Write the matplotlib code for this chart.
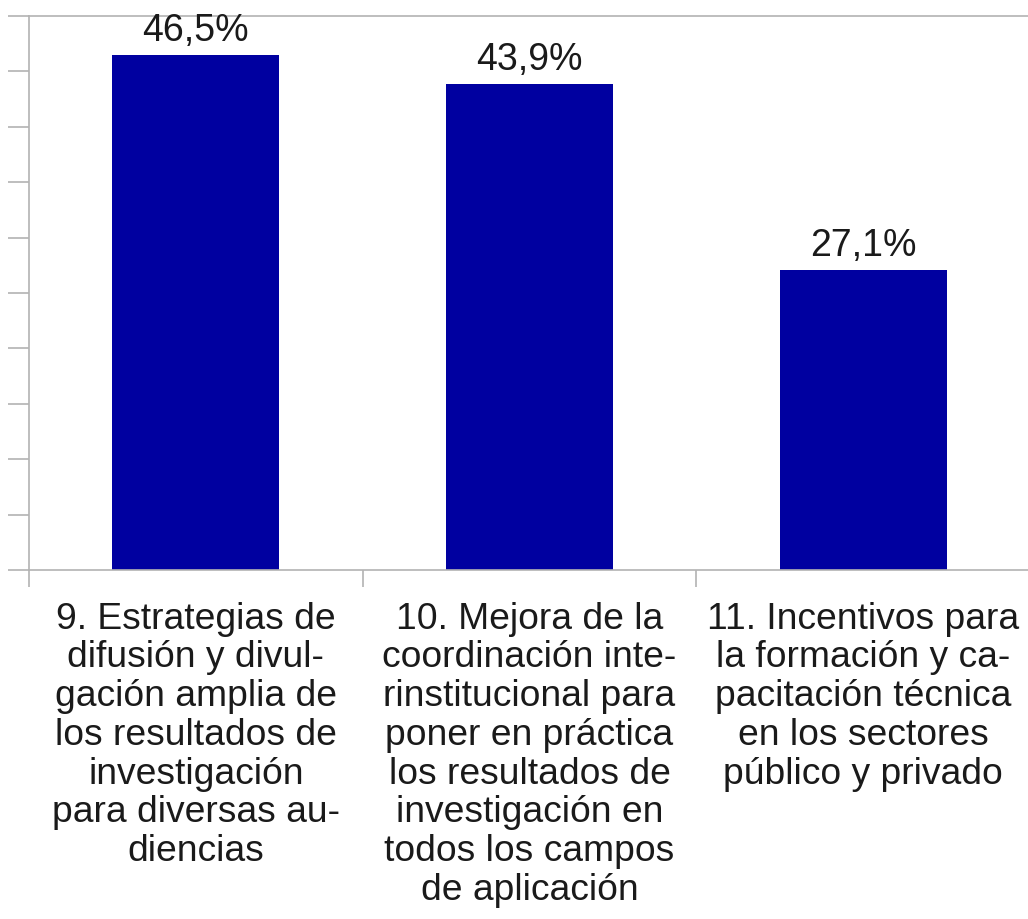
import matplotlib.pyplot as plt

# ---------- DATA ----------
categories = [
    "9. Estrategias de\ndifusión y divul-\ngación amplia de\nlos resultados de\ninvestigación\npara diversas au-\ndiencias",
    "10. Mejora de la\ncoordinación inte-\nrinstitucional para\nponer en práctica\nlos resultados de\ninvestigación en\ntodos los campos\nde aplicación",
    "11. Incentivos para\nla formación y ca-\npacitación técnica\nen los sectores\npúblico y privado",
]
values = [46.5, 43.9, 27.1]
value_labels = ["46,5%", "43,9%", "27,1%"]

plt.rcParams['font.family'] = ['Liberation Sans', 'DejaVu Sans']

W, H = 1028, 920
fig = plt.figure(figsize=(W / 100, H / 100), dpi=100)
left, right, bottom, top = 29, 1030, 571, 17
ax = fig.add_axes([left / W, 1 - bottom / H, (right - left) / W, (bottom - top) / H])

grey = "#b3b3b3"
text_col = "#1a1a1a"
x = range(len(values))
bars = ax.bar(x, values, width=0.5, color="#0000a0")
ax.bar_label(bars, labels=value_labels, padding=5, fontsize=27, color=text_col)

ax.set_xlim(-0.5, 2.5)
ax.set_ylim(0, 50)
ax.set_yticks(range(0, 51, 5))
ax.set_yticklabels([])
ax.tick_params(axis='y', length=15, color=grey, width=1.2)

# category boundaries as major ticks, labels at centres as minor ticks
ax.set_xticks([-0.5, 0.5, 1.5, 2.5])
ax.set_xticklabels([])
ax.tick_params(axis='x', which='major', length=12, color=grey, width=1.2)
ax.set_xticks(list(x), minor=True)
ax.set_xticklabels(categories, minor=True, fontsize=26.8, linespacing=1.14, color=text_col)
ax.tick_params(axis='x', which='minor', length=0, pad=22)

for side in ['left', 'bottom', 'top']:
    ax.spines[side].set_color(grey)
    ax.spines[side].set_linewidth(1.2)
ax.spines['right'].set_visible(False)

fig.savefig("out.png", dpi=100)
